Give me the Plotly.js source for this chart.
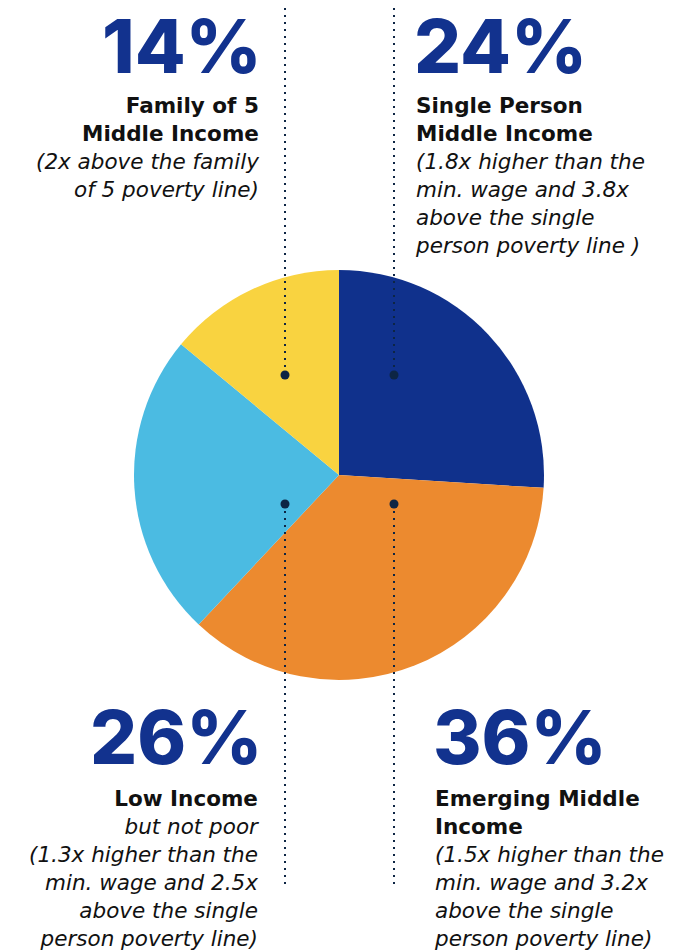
<!DOCTYPE html>
<html>
<head>
<meta charset="utf-8">
<script src="https://cdn.plot.ly/plotly-3.0.1.min.js"></script>
<style>
  html, body { margin: 0; padding: 0; background: #ffffff; }
  #chart { width: 686px; height: 950px; }
</style>
</head>
<body>
<div id="chart"></div>
<script>
// ---- data ----
const categories = ['Single Person Middle Income', 'Emerging Middle Income', 'Low Income', 'Family of 5 Middle Income'];
const shares = [26, 36, 24, 14];           // slice sizes as drawn (clockwise from 12 o'clock)
const pctLabels = ['24%', '36%', '26%', '14%'];
const headings = ['Single Person<br>Middle Income', 'Emerging Middle<br>Income', 'Low Income', 'Family of 5<br>Middle Income'];
const notes = [
  '(1.8x higher than the<br>min. wage and 3.8x<br>above the single<br>person poverty line )',
  '(1.5x higher than the<br>min. wage and 3.2x<br>above the single<br>person poverty line)',
  'but not poor<br>(1.3x higher than the<br>min. wage and 2.5x<br>above the single<br>person poverty line)',
  '(2x above the family<br>of 5 poverty line)'
];
const sliceColors = ['#10318c', '#ec8a2f', '#4bbbe2', '#f9d340'];

// ---- layout helpers ----
const W = 686, H = 950;
const px = x => x / W;
const py = y => 1 - y / H;

// block placement
const blocks = [
  {x: 412, tx: 413, anchor: 'left',  numY: 46,  textTop: 91},
  {x: 431, tx: 432, anchor: 'left',  numY: 737, textTop: 784},
  {x: 264, tx: 261, anchor: 'right', numY: 737, textTop: 784},
  {x: 264, tx: 261, anchor: 'right', numY: 46,  textTop: 91}
];

const numColor = '#12328e';
const annotations = [];
categories.forEach((c, i) => {
  const b = blocks[i];
  annotations.push({
    xref: 'paper', yref: 'paper', x: px(b.x), y: py(b.numY),
    xanchor: b.anchor, yanchor: 'middle', align: b.anchor, showarrow: false,
    text: pctLabels[i],
    font: {family: 'Inter, sans-serif', size: 74, weight: 800, color: numColor}
  });
  annotations.push({
    xref: 'paper', yref: 'paper', x: px(b.tx), y: py(b.textTop),
    xanchor: b.anchor, yanchor: 'top', align: b.anchor, showarrow: false,
    text: '<b>' + headings[i] + '</b><br><i>' + notes[i] + '</i>',
    font: {family: '"DejaVu Sans", sans-serif', size: 21.5, color: '#111111'}
  });
});

const lineColor = '#0d2544';
const shapes = [];
[[285, 8, 375], [394, 8, 375], [285, 504, 885], [394, 504, 885]].forEach(s => {
  shapes.push({type: 'line', xref: 'paper', yref: 'paper',
    x0: px(s[0]), x1: px(s[0]), y0: py(s[1]), y1: py(s[2]),
    line: {color: lineColor, width: 2, dash: '2px,5px'}});
});
[[285, 375], [394, 375], [285, 504], [394, 504]].forEach(d => {
  shapes.push({type: 'circle', xref: 'paper', yref: 'paper',
    x0: px(d[0] - 4.5), x1: px(d[0] + 4.5), y0: py(d[1] + 4.5), y1: py(d[1] - 4.5),
    fillcolor: lineColor, line: {width: 0}});
});

const trace = {
  type: 'pie',
  labels: categories,
  values: shares,
  sort: false,
  direction: 'clockwise',
  rotation: 0,
  marker: {colors: sliceColors, line: {width: 0}},
  textinfo: 'none',
  hoverinfo: 'none',
  showlegend: false,
  domain: {x: [px(134), px(544)], y: [1 - 680 / H, 1 - 270 / H]}
};

const layout = {
  width: W, height: H,
  margin: {l: 0, r: 0, t: 0, b: 0},
  paper_bgcolor: '#ffffff',
  plot_bgcolor: '#ffffff',
  showlegend: false,
  annotations: annotations,
  shapes: shapes
};

Plotly.newPlot('chart', [trace], layout, {displayModeBar: false, staticPlot: true});
</script>
</body>
</html>
